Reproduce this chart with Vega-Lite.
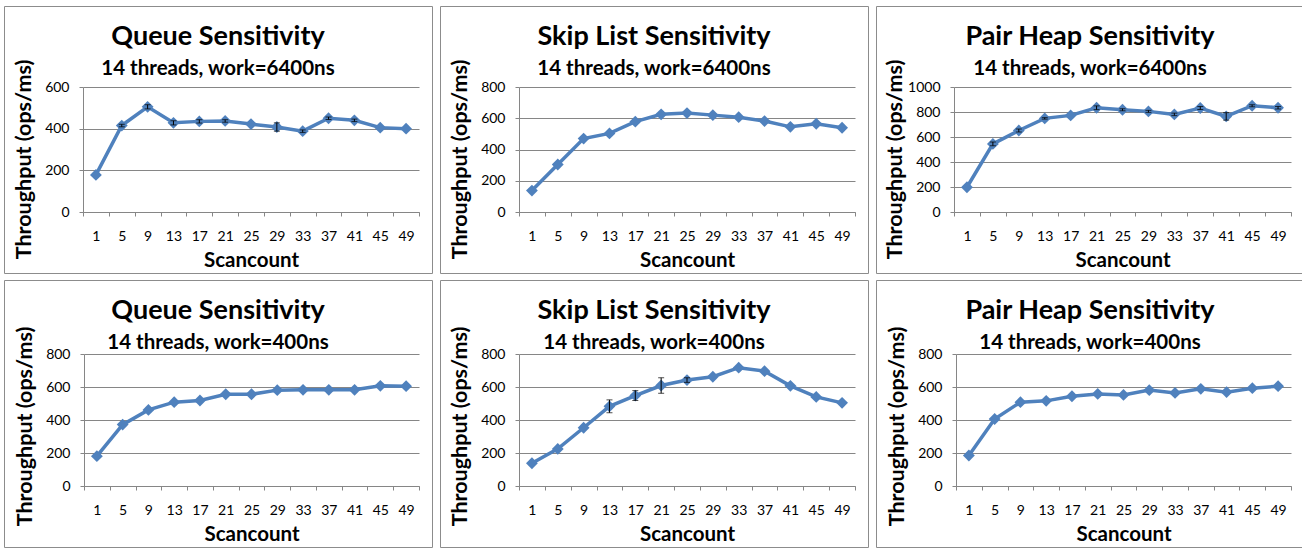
{
  "$schema": "https://vega.github.io/schema/vega-lite/v6.json",
  "background": "white",
  "padding": {"left": 3, "top": 5, "right": 0, "bottom": 0},
  "datasets": {
    "q6400": [
      {"sc": 1, "tp": 178, "err": 0}, {"sc": 5, "tp": 415, "err": 6}, {"sc": 9, "tp": 505, "err": 10},
      {"sc": 13, "tp": 428, "err": 10}, {"sc": 17, "tp": 435, "err": 8}, {"sc": 21, "tp": 437, "err": 6},
      {"sc": 25, "tp": 422, "err": 0}, {"sc": 29, "tp": 408, "err": 20}, {"sc": 33, "tp": 388, "err": 6},
      {"sc": 37, "tp": 450, "err": 6}, {"sc": 41, "tp": 440, "err": 6}, {"sc": 45, "tp": 405, "err": 0},
      {"sc": 49, "tp": 400, "err": 0}
    ],
    "s6400": [
      {"sc": 1, "tp": 137, "err": 0}, {"sc": 5, "tp": 304, "err": 0}, {"sc": 9, "tp": 470, "err": 0},
      {"sc": 13, "tp": 503, "err": 0}, {"sc": 17, "tp": 578, "err": 0}, {"sc": 21, "tp": 625, "err": 0},
      {"sc": 25, "tp": 633, "err": 0}, {"sc": 29, "tp": 620, "err": 0}, {"sc": 33, "tp": 607, "err": 0},
      {"sc": 37, "tp": 582, "err": 0}, {"sc": 41, "tp": 545, "err": 0}, {"sc": 45, "tp": 565, "err": 0},
      {"sc": 49, "tp": 539, "err": 0}
    ],
    "p6400": [
      {"sc": 1, "tp": 198, "err": 0}, {"sc": 5, "tp": 545, "err": 15}, {"sc": 9, "tp": 652, "err": 12},
      {"sc": 13, "tp": 749, "err": 6}, {"sc": 17, "tp": 773, "err": 0}, {"sc": 21, "tp": 834, "err": 15},
      {"sc": 25, "tp": 818, "err": 8}, {"sc": 29, "tp": 805, "err": 8}, {"sc": 33, "tp": 781, "err": 10},
      {"sc": 37, "tp": 832, "err": 12}, {"sc": 41, "tp": 765, "err": 30}, {"sc": 45, "tp": 850, "err": 8},
      {"sc": 49, "tp": 834, "err": 10}
    ],
    "q400": [
      {"sc": 1, "tp": 181, "err": 0}, {"sc": 5, "tp": 372, "err": 0}, {"sc": 9, "tp": 461, "err": 0},
      {"sc": 13, "tp": 508, "err": 0}, {"sc": 17, "tp": 518, "err": 0}, {"sc": 21, "tp": 556, "err": 0},
      {"sc": 25, "tp": 556, "err": 0}, {"sc": 29, "tp": 581, "err": 0}, {"sc": 33, "tp": 583, "err": 0},
      {"sc": 37, "tp": 583, "err": 0}, {"sc": 41, "tp": 583, "err": 0}, {"sc": 45, "tp": 607, "err": 0},
      {"sc": 49, "tp": 605, "err": 0}
    ],
    "s400": [
      {"sc": 1, "tp": 138, "err": 0}, {"sc": 5, "tp": 225, "err": 0}, {"sc": 9, "tp": 353, "err": 0},
      {"sc": 13, "tp": 483, "err": 39}, {"sc": 17, "tp": 548, "err": 30}, {"sc": 21, "tp": 609, "err": 47},
      {"sc": 25, "tp": 642, "err": 14}, {"sc": 29, "tp": 662, "err": 0}, {"sc": 33, "tp": 717, "err": 0},
      {"sc": 37, "tp": 696, "err": 0}, {"sc": 41, "tp": 607, "err": 0}, {"sc": 45, "tp": 540, "err": 0},
      {"sc": 49, "tp": 504, "err": 0}
    ],
    "p400": [
      {"sc": 1, "tp": 185, "err": 0}, {"sc": 5, "tp": 406, "err": 0}, {"sc": 9, "tp": 508, "err": 0},
      {"sc": 13, "tp": 516, "err": 0}, {"sc": 17, "tp": 544, "err": 0}, {"sc": 21, "tp": 558, "err": 0},
      {"sc": 25, "tp": 552, "err": 0}, {"sc": 29, "tp": 581, "err": 0}, {"sc": 33, "tp": 564, "err": 0},
      {"sc": 37, "tp": 589, "err": 0}, {"sc": 41, "tp": 569, "err": 0}, {"sc": 45, "tp": 593, "err": 0},
      {"sc": 49, "tp": 605, "err": 0}
    ]
  },
  "config": {
    "view": {"stroke": "#8c8c8c", "strokeWidth": 1},
    "font": "Lato",
    "axis": {
      "domainColor": "#868686", "gridColor": "#868686", "tickColor": "#868686",
      "labelFont": "Lato", "labelFontSize": 14, "labelColor": "black",
      "titleFont": "Lato", "titleFontWeight": "bold", "titleColor": "black",
      "tickSize": 4
    },
    "axisX": {
      "grid": false, "tickBand": "extent", "labelAngle": 0, "labelBaseline": "alphabetic",
      "labelPadding": 24, "titleY": 54, "titleBaseline": "alphabetic", "offset": -61, "titleFontSize": 20.5
    },
    "axisY": {
      "grid": false, "labelPadding": 10, "titleX": -53, "titleBaseline": "alphabetic", "offset": -79, "titleFontSize": 21.5, "format": "d"
    },
    "title": {
      "font": "Lato", "fontSize": 27, "fontWeight": "bold", "color": "black",
      "subtitleFont": "Lato", "subtitleFontSize": 20.5, "subtitleFontWeight": "bold", "subtitleColor": "black",
      "anchor": "middle", "offset": -74, "subtitlePadding": 8
    }
  },
  "spacing": 5,
  "vconcat": [
    {
      "spacing": 6,
      "hconcat": [
        {
          "width": 428, "height": 267,
          "title": {"text": "Queue Sensitivity", "subtitle": "14 threads, work=6400ns"},
          "data": {"name": "q6400"},
          "encoding": {
            "x": {"field": "sc", "type": "ordinal", "scale": {"type": "band", "range": [79, 415], "paddingInner": 0, "paddingOuter": 0}, "axis": {"title": "Scancount"}},
            "y": {"field": "tp", "type": "quantitative", "scale": {"domain": [0, 600], "range": [206, 81], "nice": false}, "axis": {"orient": "left", "title": "Throughput (ops/ms)", "values": [0, 200, 400, 600], "titleY": 153}}
          },
          "layer": [
            {"mark": {"type": "line", "color": "#4F81BD", "strokeWidth": 3.5},
             "encoding": {"y": {"field": "tp", "type": "quantitative", "scale": {"domain": [0, 600], "range": [206, 81], "nice": false}, "axis": {"orient": "left", "grid": true, "values": [0, 200, 400, 600], "labels": false, "ticks": false, "domain": false, "title": null, "offset": 0}}}},
            {"mark": {"type": "point", "shape": "diamond", "filled": true, "size": 140, "color": "#4F81BD", "opacity": 1}},
            {"transform": [{"filter": "datum.err > 0"}], "mark": {"type": "errorbar", "ticks": {"size": 6, "color": "black"}, "color": "black"},
             "encoding": {"y": {"field": "tp", "type": "quantitative", "scale": {"domain": [0, 600], "range": [206, 81], "nice": false}, "axis": null}, "yError": {"field": "err"}}}
          ],
          "resolve": {"axis": {"y": "independent"}}
        },
        {
          "width": 428, "height": 267,
          "title": {"text": "Skip List Sensitivity", "subtitle": "14 threads, work=6400ns"},
          "data": {"name": "s6400"},
          "encoding": {
            "x": {"field": "sc", "type": "ordinal", "scale": {"type": "band", "range": [79, 415], "paddingInner": 0, "paddingOuter": 0}, "axis": {"title": "Scancount"}},
            "y": {"field": "tp", "type": "quantitative", "scale": {"domain": [0, 800], "range": [206, 81], "nice": false}, "axis": {"orient": "left", "title": "Throughput (ops/ms)", "values": [0, 200, 400, 600, 800], "titleY": 153}}
          },
          "layer": [
            {"mark": {"type": "line", "color": "#4F81BD", "strokeWidth": 3.5},
             "encoding": {"y": {"field": "tp", "type": "quantitative", "scale": {"domain": [0, 800], "range": [206, 81], "nice": false}, "axis": {"orient": "left", "grid": true, "values": [0, 200, 400, 600, 800], "labels": false, "ticks": false, "domain": false, "title": null, "offset": 0}}}},
            {"mark": {"type": "point", "shape": "diamond", "filled": true, "size": 140, "color": "#4F81BD", "opacity": 1}}
          ],
          "resolve": {"axis": {"y": "independent"}}
        },
        {
          "width": 428, "height": 267,
          "title": {"text": "Pair Heap Sensitivity", "subtitle": "14 threads, work=6400ns"},
          "data": {"name": "p6400"},
          "encoding": {
            "x": {"field": "sc", "type": "ordinal", "scale": {"type": "band", "range": [78, 415], "paddingInner": 0, "paddingOuter": 0}, "axis": {"title": "Scancount"}},
            "y": {"field": "tp", "type": "quantitative", "scale": {"domain": [0, 1000], "range": [206, 81], "nice": false}, "axis": {"orient": "left", "title": "Throughput (ops/ms)", "values": [0, 200, 400, 600, 800, 1000], "titleY": 153, "offset": -78}}
          },
          "layer": [
            {"mark": {"type": "line", "color": "#4F81BD", "strokeWidth": 3.5},
             "encoding": {"y": {"field": "tp", "type": "quantitative", "scale": {"domain": [0, 1000], "range": [206, 81], "nice": false}, "axis": {"orient": "left", "grid": true, "values": [0, 200, 400, 600, 800, 1000], "labels": false, "ticks": false, "domain": false, "title": null, "offset": 0}}}},
            {"mark": {"type": "point", "shape": "diamond", "filled": true, "size": 140, "color": "#4F81BD", "opacity": 1}},
            {"transform": [{"filter": "datum.err > 0"}], "mark": {"type": "errorbar", "ticks": {"size": 6, "color": "black"}, "color": "black"},
             "encoding": {"y": {"field": "tp", "type": "quantitative", "scale": {"domain": [0, 1000], "range": [206, 81], "nice": false}, "axis": null}, "yError": {"field": "err"}}}
          ],
          "resolve": {"axis": {"y": "independent"}}
        }
      ]
    },
    {
      "spacing": 6,
      "hconcat": [
        {
          "width": 428, "height": 267,
          "title": {"text": "Queue Sensitivity", "subtitle": "14 threads, work=400ns"},
          "data": {"name": "q400"},
          "encoding": {
            "x": {"field": "sc", "type": "ordinal", "scale": {"type": "band", "range": [80, 415], "paddingInner": 0, "paddingOuter": 0}, "axis": {"title": "Scancount"}},
            "y": {"field": "tp", "type": "quantitative", "scale": {"domain": [0, 800], "range": [206, 74], "nice": false}, "axis": {"orient": "left", "title": "Throughput (ops/ms)", "values": [0, 200, 400, 600, 800], "titleY": 146, "offset": -80}}
          },
          "layer": [
            {"mark": {"type": "line", "color": "#4F81BD", "strokeWidth": 3.5},
             "encoding": {"y": {"field": "tp", "type": "quantitative", "scale": {"domain": [0, 800], "range": [206, 74], "nice": false}, "axis": {"orient": "left", "grid": true, "values": [0, 200, 400, 600, 800], "labels": false, "ticks": false, "domain": false, "title": null, "offset": 0}}}},
            {"mark": {"type": "point", "shape": "diamond", "filled": true, "size": 140, "color": "#4F81BD", "opacity": 1}}
          ],
          "resolve": {"axis": {"y": "independent"}}
        },
        {
          "width": 428, "height": 267,
          "title": {"text": "Skip List Sensitivity", "subtitle": "14 threads, work=400ns"},
          "data": {"name": "s400"},
          "encoding": {
            "x": {"field": "sc", "type": "ordinal", "scale": {"type": "band", "range": [79, 415], "paddingInner": 0, "paddingOuter": 0}, "axis": {"title": "Scancount"}},
            "y": {"field": "tp", "type": "quantitative", "scale": {"domain": [0, 800], "range": [206, 74], "nice": false}, "axis": {"orient": "left", "title": "Throughput (ops/ms)", "values": [0, 200, 400, 600, 800], "titleY": 146}}
          },
          "layer": [
            {"mark": {"type": "line", "color": "#4F81BD", "strokeWidth": 3.5},
             "encoding": {"y": {"field": "tp", "type": "quantitative", "scale": {"domain": [0, 800], "range": [206, 74], "nice": false}, "axis": {"orient": "left", "grid": true, "values": [0, 200, 400, 600, 800], "labels": false, "ticks": false, "domain": false, "title": null, "offset": 0}}}},
            {"mark": {"type": "point", "shape": "diamond", "filled": true, "size": 140, "color": "#4F81BD", "opacity": 1}},
            {"transform": [{"filter": "datum.err > 0"}], "mark": {"type": "errorbar", "ticks": {"size": 6, "color": "black"}, "color": "black"},
             "encoding": {"y": {"field": "tp", "type": "quantitative", "scale": {"domain": [0, 800], "range": [206, 74], "nice": false}, "axis": null}, "yError": {"field": "err"}}}
          ],
          "resolve": {"axis": {"y": "independent"}}
        },
        {
          "width": 428, "height": 267,
          "title": {"text": "Pair Heap Sensitivity", "subtitle": "14 threads, work=400ns"},
          "data": {"name": "p400"},
          "encoding": {
            "x": {"field": "sc", "type": "ordinal", "scale": {"type": "band", "range": [80, 415], "paddingInner": 0, "paddingOuter": 0}, "axis": {"title": "Scancount"}},
            "y": {"field": "tp", "type": "quantitative", "scale": {"domain": [0, 800], "range": [206, 74], "nice": false}, "axis": {"orient": "left", "title": "Throughput (ops/ms)", "values": [0, 200, 400, 600, 800], "titleY": 146, "offset": -80}}
          },
          "layer": [
            {"mark": {"type": "line", "color": "#4F81BD", "strokeWidth": 3.5},
             "encoding": {"y": {"field": "tp", "type": "quantitative", "scale": {"domain": [0, 800], "range": [206, 74], "nice": false}, "axis": {"orient": "left", "grid": true, "values": [0, 200, 400, 600, 800], "labels": false, "ticks": false, "domain": false, "title": null, "offset": 0}}}},
            {"mark": {"type": "point", "shape": "diamond", "filled": true, "size": 140, "color": "#4F81BD", "opacity": 1}}
          ],
          "resolve": {"axis": {"y": "independent"}}
        }
      ]
    }
  ]
}
